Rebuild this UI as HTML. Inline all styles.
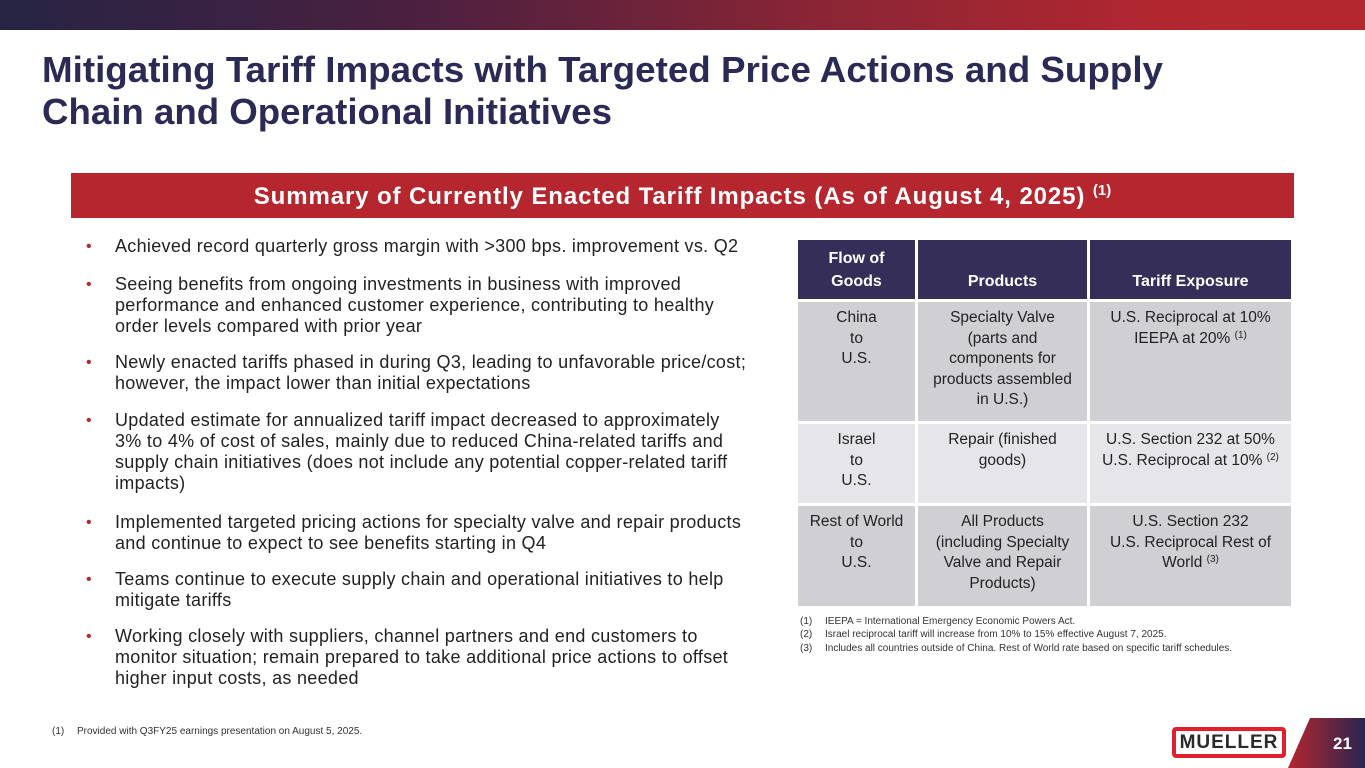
<!DOCTYPE html>
<html><head><meta charset="utf-8">
<style>
*{margin:0;padding:0;box-sizing:border-box}
body{width:1365px;height:768px;position:relative;background:#fff;font-family:"Liberation Sans",sans-serif;overflow:hidden;color:#222}
#topbar{position:absolute;left:0;top:0;width:1365px;height:30px;background:linear-gradient(90deg,#262444 0%,#4a2040 30%,#8a2535 60%,#b2272f 85%,#b5272f 100%)}
#banner{position:absolute;left:71px;top:173px;width:1223px;height:45px;background:#b5262f;color:#fff;font-weight:bold;font-size:24px;letter-spacing:0.9px;text-align:center;line-height:47px;white-space:nowrap}
#banner sup{font-size:15px;vertical-align:9px;line-height:0;letter-spacing:0}
.bul{position:absolute;left:84px;font-size:18px;letter-spacing:0.3px;line-height:21px;color:#222}
.bul .dot{position:absolute;left:2px;top:0;color:#b5262f;font-size:16px}
.bul .t{position:absolute;left:31px;top:0;white-space:nowrap}
table{position:absolute;left:795px;top:237px;border-collapse:collapse;font-size:15.5px;line-height:20.5px;text-align:center;color:#222}
td,th{border:3px solid #fff;vertical-align:top;padding-top:6px;white-space:nowrap}
th{background:#342e58;color:#fff;font-weight:bold;vertical-align:bottom;padding-bottom:6px;font-size:16px;line-height:23px}
tr.r1 td{background:#d0cfd4}
tr.r2 td{background:#e6e6ea}
tr.r3 td{background:#d0cfd4}
td sup{font-size:10px;vertical-align:5px;line-height:0}
.fn{position:absolute;font-size:10px;color:#333;white-space:nowrap}
.fn span{display:inline-block;width:25px}
</style></head><body>
<div id="topbar"></div>
<svg style="position:absolute;left:0;top:40px" width="1200" height="100">
<text x="42" y="42" font-family="Liberation Sans" font-weight="bold" font-size="36" fill="#2a2a55" textLength="1121" lengthAdjust="spacingAndGlyphs">Mitigating Tariff Impacts with Targeted Price Actions and Supply</text>
<text x="42" y="84" font-family="Liberation Sans" font-weight="bold" font-size="36" fill="#2a2a55" textLength="570" lengthAdjust="spacingAndGlyphs">Chain and Operational Initiatives</text>
</svg>
<div id="banner">Summary of Currently Enacted Tariff Impacts (As of August 4, 2025) <sup>(1)</sup></div>

<div class="bul" style="top:236px"><span class="dot">•</span><span class="t">Achieved record quarterly gross margin with &gt;300 bps. improvement vs. Q2</span></div>
<div class="bul" style="top:274px"><span class="dot">•</span><span class="t">Seeing benefits from ongoing investments in business with improved<br>performance and enhanced customer experience, contributing to healthy<br>order levels compared with prior year</span></div>
<div class="bul" style="top:352px"><span class="dot">•</span><span class="t">Newly enacted tariffs phased in during Q3, leading to unfavorable price/cost;<br>however, the impact lower than initial expectations</span></div>
<div class="bul" style="top:410px"><span class="dot">•</span><span class="t">Updated estimate for annualized tariff impact decreased to approximately<br>3% to 4% of cost of sales, mainly due to reduced China-related tariffs and<br>supply chain initiatives (does not include any potential copper-related tariff<br>impacts)</span></div>
<div class="bul" style="top:512px"><span class="dot">•</span><span class="t">Implemented targeted pricing actions for specialty valve and repair products<br>and continue to expect to see benefits starting in Q4</span></div>
<div class="bul" style="top:569px"><span class="dot">•</span><span class="t">Teams continue to execute supply chain and operational initiatives to help<br>mitigate tariffs</span></div>
<div class="bul" style="top:626px"><span class="dot">•</span><span class="t">Working closely with suppliers, channel partners and end customers to<br>monitor situation; remain prepared to take additional price actions to offset<br>higher input costs, as needed</span></div>

<table>
<tr style="height:62px"><th style="width:120px">Flow of<br>Goods</th><th style="width:172px">Products</th><th style="width:204px">Tariff Exposure</th></tr>
<tr class="r1" style="height:122px"><td>China<br>to<br>U.S.</td><td>Specialty Valve<br>(parts and<br>components for<br>products assembled<br>in U.S.)</td><td>U.S. Reciprocal at 10%<br>IEEPA at 20% <sup>(1)</sup></td></tr>
<tr class="r2" style="height:82px"><td>Israel<br>to<br>U.S.</td><td>Repair (finished<br>goods)</td><td>U.S. Section 232 at 50%<br>U.S. Reciprocal at 10% <sup>(2)</sup></td></tr>
<tr class="r3" style="height:103px"><td>Rest of World<br>to<br>U.S.</td><td>All Products<br>(including Specialty<br>Valve and Repair<br>Products)</td><td>U.S. Section 232<br>U.S. Reciprocal Rest of<br>World <sup>(3)</sup></td></tr>
</table>

<div class="fn" style="left:800px;top:616px"><span>(1)</span>IEEPA = International Emergency Economic Powers Act.</div>
<div class="fn" style="left:800px;top:629px"><span>(2)</span>Israel reciprocal tariff will increase from 10% to 15% effective August 7, 2025.</div>
<div class="fn" style="left:800px;top:643px"><span>(3)</span>Includes all countries outside of China.  Rest of World rate based on specific tariff schedules.</div>
<div class="fn" style="left:52px;top:726px"><span>(1)</span>Provided with Q3FY25 earnings presentation on August 5, 2025.</div>

<div style="position:absolute;left:1172px;top:727px;width:114px;height:31px;border:4px solid #e0202e;border-radius:4px;background:#fff;color:#2a2a2a;font-weight:bold;font-size:19px;line-height:23px;text-align:center;letter-spacing:1px">MUELLER</div>
<svg style="position:absolute;left:1288px;top:718px" width="77" height="50">
<defs><linearGradient id="pg" x1="0" x2="1" y1="0" y2="0"><stop offset="0" stop-color="#b5262f"/><stop offset="1" stop-color="#2a2550"/></linearGradient></defs>
<polygon points="22,0 77,0 77,50 0,50" fill="url(#pg)"/>
<text x="45" y="31" font-family="Liberation Sans" font-weight="bold" font-size="17" fill="#fff">21</text>
</svg>
</body></html>
